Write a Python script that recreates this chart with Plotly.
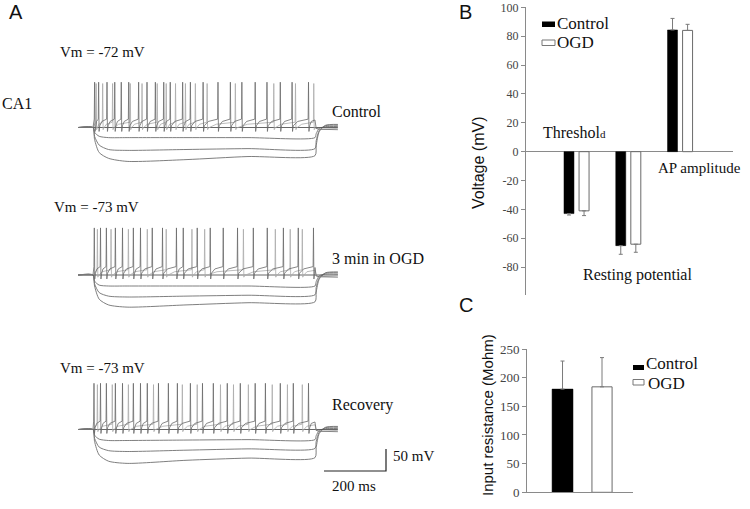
import plotly.graph_objects as go

# ------------------------------------------------------------------ data
# Panel A : current-clamp recordings (times in ms from step onset, voltages in mV)
CONDITIONS = ["Control", "3 min in OGD", "Recovery"]
VM_LABELS = ["Vm = -72 mV", "Vm = -73 mV", "Vm = -73 mV"]
REST_MV = [-72, -73, -73]
STEP_END_MS = 716
SWEEP_START_MS = -48
SWEEP_END_MS = 790

# spike times of the strongly depolarised sweep (darker) and weaker sweep (lighter)
SPIKES_FAST = [
    [4, 17, 44, 69, 90, 114, 146, 173, 200, 227, 248, 288, 313, 354, 402, 442, 479, 522, 560, 603, 641, 694],
    [3, 23, 42, 71, 94, 129, 152, 190, 223, 268, 290, 335, 377, 419, 465, 516, 561, 613, 661, 710],
    [2, 23, 42, 71, 94, 129, 152, 174, 210, 242, 271, 313, 352, 387, 432, 474, 522, 555, 603, 645, 694],
]
SPIKES_SLOW = [
    [9, 30, 62, 119, 157, 206, 235, 265, 297, 329, 367, 458, 582, 652, 711],
    [13, 57, 113, 174, 235, 318, 359, 484, 587, 635, 674],
    [13, 61, 113, 194, 287, 335, 410, 452, 500, 577, 626, 674],
]
SPIKE_PEAK_MV = [103, 107, 105]      # spike peak above rest
FAST_THRESH_MV = 19                  # threshold above rest (fast sweep)
SLOW_THRESH_MV = 12
FAST_AHP_MV = 4
SLOW_AHP_MV = -1
FAST_UNDERSHOOT_MV = -9
SLOW_UNDERSHOOT_MV = -5

# hyperpolarising sweeps: deflection from rest (mV) at the knot times below
HYP_T = [-48, 0, 5, 20, 50, 110, 300, 500, 716, 720, 730, 750, 790]
HYP_SWEEPS = [
    [  # Control
        [0, 0, -11, -20, -23, -23, -23, -23, -23, -14, -2, 2, 2],
        [0, 0, -20, -40, -50, -52, -50, -48, -48, -30, -7, 4, 5],
        [0, 0, -27, -57, -70, -77, -73, -66, -64, -41, -9, 5, 7],
    ],
    [  # 3 min in OGD
        [0, 0, -14, -23, -25, -25, -25, -25, -25, -15, -2, 2, 2],
        [0, 0, -20, -40, -48, -50, -48, -46, -45, -28, -6, 4, 5],
        [0, 0, -25, -55, -68, -73, -68, -63, -61, -39, -9, 5, 7],
    ],
    [  # Recovery
        [0, 0, -13, -22, -25, -25, -24, -23, -23, -14, -2, 2, 2],
        [0, 0, -20, -40, -48, -50, -47, -44, -43, -27, -6, 4, 5],
        [0, 0, -27, -58, -72, -77, -70, -65, -64, -41, -9, 5, 7],
    ],
]
SCALE_MS = 200
SCALE_MV = 50

# Panel B
B_CATEGORIES = ["Threshold", "Resting potential", "AP amplitude"]
B_CONTROL = [-42.9, -65.1, 84.3]
B_CONTROL_ERR = [1.0, 6.0, 8.0]
B_OGD = [-41.0, -64.1, 84.0]
B_OGD_ERR = [3.3, 5.6, 4.2]
B_TICKS = [100, 80, 60, 40, 20, 0, -20, -40, -60, -80]

# Panel C
C_GROUPS = ["Control", "OGD"]
C_VALUES = [180, 184]
C_ERRORS = [49, 51]
C_TICKS = [0, 50, 100, 150, 200, 250]

# ------------------------------------------------------------------ layout helpers
W, H = 750, 509
MS_PER_PX = SCALE_MS / 62.0
MV_PER_PX = SCALE_MV / 22.0
A_ORIGIN_PX = 93               # x pixel of step onset
BASE_PX = [127.5, 275, 429.5]  # y pixel of each sweep's resting level


def PX(p):
    return p / W


def PY(p):
    return 1 - p / H


fig = go.Figure()


def add_line(t, v, off, color, width=1, spline=False):
    fig.add_trace(go.Scatter(
        x=t, y=[vv + off for vv in v], mode="lines",
        line=dict(color=color, width=width, shape="spline" if spline else "linear", smoothing=0.7),
        xaxis="x", yaxis="y", hoverinfo="skip", showlegend=False))


def spiking(spikes, rest, thr, peak, ahp, under, end_level):
    t = [SWEEP_START_MS, 0]
    v = [rest, rest]
    prev_end = None
    for ts in spikes:
        if prev_end is None:
            t.append(ts); v.append(rest + thr)
        else:
            mid = prev_end + 0.3 * (ts - prev_end)
            t += [mid, ts]; v += [rest + ahp + 0.65 * (thr - ahp), rest + thr]
        t += [ts + 1.2, ts + 2.6, ts + 5]
        v += [rest + peak, rest + under, rest + ahp]
        prev_end = ts + 5
    if prev_end < STEP_END_MS:
        mid = prev_end + 0.3 * (STEP_END_MS - prev_end)
        t += [mid, STEP_END_MS]; v += [rest + ahp + 0.65 * (thr - ahp), rest + thr * 0.9]
    t += [STEP_END_MS + 4, STEP_END_MS + 14, SWEEP_END_MS]
    v += [rest - 2, rest - 4, rest + end_level]
    return t, v


for i in range(3):
    rest = REST_MV[i]
    off = -MV_PER_PX * BASE_PX[i] - rest
    # hyperpolarising sweeps
    for sweep in HYP_SWEEPS[i]:
        add_line(HYP_T, [rest + d for d in sweep], off, "#707070", 0.9, spline=True)
    # zero-current sweep
    add_line([SWEEP_START_MS, SWEEP_END_MS], [rest, rest], off, "#555555", 0.9)
    # spiking sweeps
    t, v = spiking(SPIKES_SLOW[i], rest, SLOW_THRESH_MV, SPIKE_PEAK_MV[i] - 3,
                   SLOW_AHP_MV, SLOW_UNDERSHOOT_MV, -2)
    add_line(t, v, off, "#ababab", 0.8)
    t, v = spiking(SPIKES_FAST[i], rest, FAST_THRESH_MV, SPIKE_PEAK_MV[i],
                   FAST_AHP_MV, FAST_UNDERSHOOT_MV, -5)
    add_line(t, v, off, "#6a6a6a", 0.8)

# scale bar
sb_t0 = (324 - A_ORIGIN_PX) * MS_PER_PX
sb_v0 = -MV_PER_PX * 471
fig.add_trace(go.Scatter(
    x=[sb_t0, sb_t0 + SCALE_MS, sb_t0 + SCALE_MS],
    y=[sb_v0, sb_v0, sb_v0 + SCALE_MV], mode="lines",
    line=dict(color="#222222", width=1.2), xaxis="x", yaxis="y",
    hoverinfo="skip", showlegend=False))

# ---- Panel B bars
BW = 0.193
fig.add_trace(go.Bar(
    x=[0, 1, 2], y=B_CONTROL, width=BW, offset=-0.245,
    marker=dict(color="#000000", line=dict(color="#000000", width=0.5)),
    error_y=dict(type="data", symmetric=False,
                 array=[e if v > 0 else 0 for v, e in zip(B_CONTROL, B_CONTROL_ERR)],
                 arrayminus=[e if v < 0 else 0 for v, e in zip(B_CONTROL, B_CONTROL_ERR)],
                 color="#7a7a7a", thickness=1, width=2),
    xaxis="x2", yaxis="y2", showlegend=False, hoverinfo="skip"))
fig.add_trace(go.Bar(
    x=[0, 1, 2], y=B_OGD, width=BW, offset=0.046,
    marker=dict(color="#ffffff", line=dict(color="#6a6a6a", width=1)),
    error_y=dict(type="data", symmetric=False,
                 array=[e if v > 0 else 0 for v, e in zip(B_OGD, B_OGD_ERR)],
                 arrayminus=[e if v < 0 else 0 for v, e in zip(B_OGD, B_OGD_ERR)],
                 color="#7a7a7a", thickness=1, width=2),
    xaxis="x2", yaxis="y2", showlegend=False, hoverinfo="skip"))

# ---- Panel C bars
fig.add_trace(go.Bar(
    x=[0], y=[C_VALUES[0]], width=0.53,
    marker=dict(color="#000000", line=dict(color="#000000", width=0.5)),
    error_y=dict(type="data", symmetric=False, array=[C_ERRORS[0]], arrayminus=[0],
                 color="#7a7a7a", thickness=1, width=2),
    xaxis="x3", yaxis="y3", showlegend=False, hoverinfo="skip"))
fig.add_trace(go.Bar(
    x=[1], y=[C_VALUES[1]], width=0.51,
    marker=dict(color="#ffffff", line=dict(color="#6a6a6a", width=1)),
    error_y=dict(type="data", symmetric=False, array=[C_ERRORS[1]], arrayminus=[0],
                 color="#7a7a7a", thickness=1, width=2),
    xaxis="x3", yaxis="y3", showlegend=False, hoverinfo="skip"))

SERIF = "Liberation Serif, Times New Roman, serif"
SANS = "Liberation Sans, Arial, sans-serif"
hidden = dict(visible=False, showgrid=False, zeroline=False, fixedrange=True)

fig.update_layout(
    width=W, height=H, margin=dict(l=0, r=0, t=0, b=0, autoexpand=False),
    paper_bgcolor="white", plot_bgcolor="white", showlegend=False,
    barmode="overlay",
    xaxis=dict(domain=[0, 440 / W],
               range=[-A_ORIGIN_PX * MS_PER_PX, (440 - A_ORIGIN_PX) * MS_PER_PX], **hidden),
    yaxis=dict(domain=[0, 1], range=[-MV_PER_PX * H, 0], **hidden),
    xaxis2=dict(domain=[PX(526), PX(733)], range=[-0.979, 3.02], anchor="y2",
                showgrid=False, zeroline=False, showline=False, showticklabels=False, ticks=""),
    yaxis2=dict(domain=[PY(295), PY(7.3)], range=[-99.3, 100], anchor="x2",
                tickvals=B_TICKS, ticktext=[str(t) for t in B_TICKS],
                showgrid=False, showline=True, linecolor="#8a8a8a", linewidth=1,
                ticks="outside", ticklen=4, tickcolor="#8a8a8a",
                zeroline=True, zerolinecolor="#8a8a8a", zerolinewidth=1,
                tickfont=dict(family=SERIF, size=12, color="#444444")),
    xaxis3=dict(domain=[PX(527), PX(633)], range=[-0.9, 1.785], anchor="y3",
                showgrid=False, zeroline=False, showline=True, linecolor="#8a8a8a",
                linewidth=1, showticklabels=False, ticks=""),
    yaxis3=dict(domain=[PY(492.3), PY(349)], range=[0, 250], anchor="x3",
                tickvals=C_TICKS, showgrid=False, showline=True, linecolor="#8a8a8a",
                linewidth=1, ticks="outside", ticklen=4, tickcolor="#8a8a8a",
                zeroline=False, tickfont=dict(family=SERIF, size=13, color="#444444")),
)


def text(s, x, y, size, family=SERIF, anchor="left", angle=0, color="#111111"):
    fig.add_annotation(text=s, x=PX(x), y=PY(y), xref="paper", yref="paper",
                       xanchor=anchor, yanchor="middle", showarrow=False,
                       textangle=angle, font=dict(family=family, size=size, color=color))


# Panel A texts
text("A", 7, 12, 20, SANS)
text("CA1", 0, 104, 16)
VM_POS = [(58, 52), (52, 207), (58, 368)]
COND_Y = [112, 258, 405]
for i in range(3):
    text(VM_LABELS[i], VM_POS[i][0], VM_POS[i][1], 15)
    text(CONDITIONS[i], 330, COND_Y[i], 16)
text(f"{SCALE_MV} mV", 391, 456, 15)
text(f"{SCALE_MS} ms", 330, 486, 15)

# Panel B texts
text("B", 457, 12, 20, SANS)
text("Voltage (mV)", 478, 163, 16, SANS, anchor="center", angle=-90)
text("Threshol<span style='font-size:11px'>d</span>", 541, 133, 16)
text(B_CATEGORIES[1], 581, 275, 16)
text(B_CATEGORIES[2], 656, 168, 15)
fig.add_shape(type="rect", xref="paper", yref="paper", x0=PX(542), x1=PX(555),
              y0=PY(27), y1=PY(21.5), fillcolor="black", line=dict(width=0))
fig.add_shape(type="rect", xref="paper", yref="paper", x0=PX(542), x1=PX(555),
              y0=PY(45.5), y1=PY(40), fillcolor="white", line=dict(color="#777777", width=1))
text("Control", 555, 24, 17)
text("OGD", 555, 43, 17)

# Panel C texts
text("C", 457, 305, 20, SANS)
text("Input resistance (Mohm)", 487, 415, 15, SANS, anchor="center", angle=-90)
fig.add_shape(type="rect", xref="paper", yref="paper", x0=PX(633), x1=PX(644),
              y0=PY(370), y1=PY(365), fillcolor="black", line=dict(width=0))
fig.add_shape(type="rect", xref="paper", yref="paper", x0=PX(633), x1=PX(644),
              y0=PY(385), y1=PY(379.5), fillcolor="white", line=dict(color="#777777", width=1))
text("Control", 644, 363, 17)
text("OGD", 646, 383, 17)

fig.write_html("out.html", config={"displayModeBar": False},
               post_script="document.body.style.margin='0px';document.body.style.overflow='hidden';")
